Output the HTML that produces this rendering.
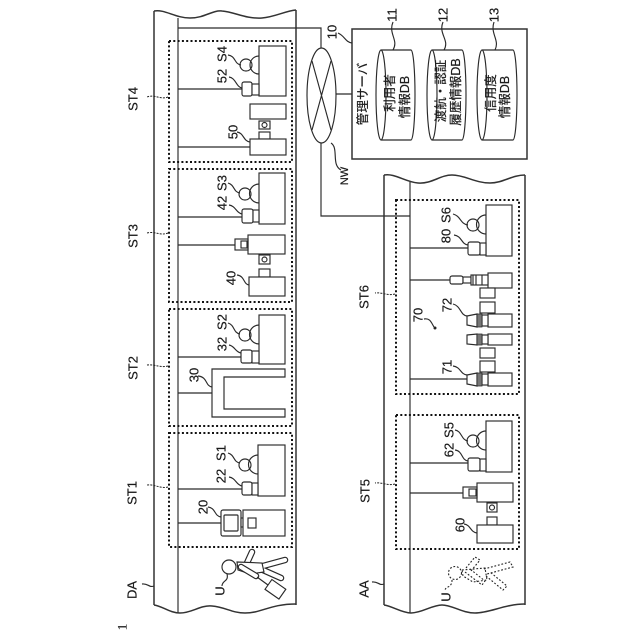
<!DOCTYPE html>
<html><head><meta charset="utf-8"><style>
html,body{margin:0;padding:0;background:#fff}
svg{display:block}
text{font-family:"Liberation Sans","Noto Sans CJK JP",sans-serif;fill:#1a1a1a;stroke:#1a1a1a;stroke-width:.2;text-anchor:middle;dominant-baseline:central}
.l{fill:none;stroke:#2a2a2a;stroke-width:1.15}
.b{fill:#fff;stroke:#2a2a2a;stroke-width:1.15}
.o{fill:none;stroke:#333;stroke-width:1.5}
.d{fill:none;stroke:#111;stroke-width:2;stroke-dasharray:2 2.300}
.q{fill:none;stroke:#222;stroke-width:1;stroke-dasharray:2 1.200}
.t{font-size:13px}
.j{font-size:12.500px}
</style></head><body>
<svg width="640" height="640" viewBox="0 0 640 640" xmlns="http://www.w3.org/2000/svg">
<rect width="640" height="640" fill="#fff"/>

<!-- left panel -->
<path class="o" d="M154,11 C165,9 175,18 190,18 C205,18 212,10 222,11 C235,12 245,19 262,18 C275,17 285,11 296,10"/>
<path class="o" d="M154,11V605M296,10V605"/>
<path class="l" d="M178,18V613"/>
<path class="o" d="M154,605 C162,606 170,613 180,613 C192,613 200,605 212,606 C225,607 232,613 245,613 C262,613 270,604 296,604"/>
<path class="l" d="M178,28H321V48"/>
<!-- network -->
<ellipse class="b" cx="321.500" cy="95.500" rx="14.500" ry="47.500"/>
<path class="l" d="M312,61L331,130M331,61L312,130M336,94H352M321,143V216H410"/>
<path class="l" d="M331,143C339,148 331,165 341,170"/>
<!-- server -->
<rect class="o" x="352" y="29" width="175" height="130"/>
<path class="b" d="M381,50H411A4,45 0 0 1 411,140H381A5,45 0 0 1 381,50ZM381,50A5,45 0 0 1 381,140"/>
<path class="b" d="M432,50H462A4,45 0 0 1 462,140H432A5,45 0 0 1 432,50ZM432,50A5,45 0 0 1 432,140"/>
<path class="b" d="M482,50H513A4,45 0 0 1 513,140H482A5,45 0 0 1 482,50ZM482,50A5,45 0 0 1 482,140"/>
<path class="l" d="M352,43C345,42 345,36 338,33M393,50C399,40 388,34 393,22M444,50C450,40 438,34 443,22M495,50C500,40 490,34 494,22"/>
<text class="t" transform="translate(392,15) rotate(-90)">11</text>
<text class="t" transform="translate(443,15) rotate(-90)">12</text>
<text class="t" transform="translate(494,15) rotate(-90)">13</text>
<text class="t" transform="translate(332,32) rotate(-90)">10</text>
<text class="t" style="font-size:11px" transform="translate(345,176) rotate(-90)">NW</text>
<text class="j" transform="translate(363,94) rotate(-90)">管理サーバ</text>
<text class="j" transform="translate(390,93) rotate(-90)">利用者</text>
<text class="j" transform="translate(405,97) rotate(-90)">情報DB</text>
<text class="j" transform="translate(441,91) rotate(-90)">渡航・認証</text>
<text class="j" transform="translate(456,92) rotate(-90)">履歴情報DB</text>
<text class="j" transform="translate(491,93) rotate(-90)">信用度</text>
<text class="j" transform="translate(505,97) rotate(-90)">情報DB</text>

<!-- dotted stations left -->
<rect class="d" x="169" y="41" width="123" height="121"/>
<rect class="d" x="169" y="169" width="123" height="133"/>
<rect class="d" x="169" y="309" width="123" height="117"/>
<rect class="d" x="169" y="433" width="123" height="114"/>

<!-- ST4 -->
<path class="l" d="M178,89H242M178,147H250"/>
<rect class="b" x="259" y="46" width="27" height="50"/>
<circle class="b" cx="246" cy="65" r="6"/>
<path class="l" d="M259,56A9,9 0 0 0 259,74"/>
<rect class="b" x="242" y="82" width="10" height="14" rx="2"/>
<rect class="b" x="252" y="84" width="7" height="11"/>
<rect class="b" x="250" y="104" width="36" height="15"/>
<rect class="b" x="259" y="121" width="11" height="8"/>
<circle class="l" cx="264.500" cy="125" r="2.500"/>
<rect class="b" x="259" y="132" width="11" height="7"/>
<rect class="b" x="250" y="139" width="36" height="16"/>
<path class="l" d="M241,65C234,64 236,56 228,55M242,88C236,87 236,78 229,77M250,142C243,141 244,133 237,132"/>
<text class="t" transform="translate(222,54) rotate(-90)">S4</text>
<text class="t" transform="translate(222,76) rotate(-90)">52</text>
<text class="t" transform="translate(233,132) rotate(-90)">50</text>
<path class="q" d="M168,97C160,100 155,94 147,97"/>
<text class="t" transform="translate(133,99) rotate(-90)">ST4</text>

<!-- ST3 -->
<path class="l" d="M178,217H242M178,245H235"/>
<rect class="b" x="259" y="173" width="26" height="51"/>
<circle class="b" cx="245" cy="194" r="6"/>
<path class="l" d="M259,184A9.500,9.500 0 0 0 259,203"/>
<rect class="b" x="242" y="209" width="11" height="14" rx="2"/>
<rect class="b" x="253" y="210" width="6" height="12"/>
<rect class="b" x="248" y="235" width="37" height="19"/>
<rect class="b" x="235" y="239" width="13" height="11"/>
<rect class="b" x="241" y="241" width="6" height="7"/>
<rect class="b" x="259" y="255" width="11" height="9"/>
<circle class="l" cx="264.500" cy="259.500" r="2.500"/>
<rect class="b" x="259" y="269" width="11" height="8"/>
<rect class="b" x="249" y="277" width="36" height="19"/>
<path class="l" d="M240,193C233,192 235,185 228,183M242,214C236,213 236,206 229,205M249,285C243,284 245,276 237,275"/>
<text class="t" transform="translate(222,183) rotate(-90)">S3</text>
<text class="t" transform="translate(222,203) rotate(-90)">42</text>
<text class="t" transform="translate(231,278) rotate(-90)">40</text>
<path class="q" d="M168,233C160,236 155,231 147,233"/>
<text class="t" transform="translate(133,236) rotate(-90)">ST3</text>

<!-- ST2 -->
<path class="l" d="M178,357H241M178,393H212"/>
<rect class="b" x="259" y="315" width="26" height="49"/>
<circle class="b" cx="245" cy="335" r="6"/>
<path class="l" d="M259,325A9.500,9.500 0 0 0 259,344"/>
<rect class="b" x="241" y="350" width="11" height="13" rx="2"/>
<rect class="b" x="252" y="351" width="7" height="12"/>
<path class="b" d="M285,369H212V417H285V409H224V377H285Z"/>
<path class="l" d="M240,334C233,333 235,325 228,323M241,353C235,352 235,346 229,345M212,387C205,386 208,377 198,376"/>
<text class="t" transform="translate(222,322) rotate(-90)">S2</text>
<text class="t" transform="translate(222,344) rotate(-90)">32</text>
<text class="t" transform="translate(194,375) rotate(-90)">30</text>
<path class="q" d="M168,366C160,368 155,364 147,365"/>
<text class="t" transform="translate(133,368) rotate(-90)">ST2</text>

<!-- ST1 -->
<path class="l" d="M178,489H242M178,523H221"/>
<rect class="b" x="258" y="445" width="27" height="51"/>
<circle class="b" cx="245" cy="465" r="6"/>
<path class="l" d="M258,455A9.500,9.500 0 0 0 258,474"/>
<rect class="b" x="242" y="482" width="10" height="13" rx="2"/>
<rect class="b" x="252" y="483" width="6" height="12"/>
<rect class="b" x="221" y="510" width="20" height="26" rx="2"/>
<rect class="b" x="224" y="515" width="14" height="16" rx="1"/>
<rect class="b" x="241" y="518" width="3" height="9"/>
<rect class="b" x="243" y="510" width="42" height="26"/>
<rect class="b" x="248" y="518" width="8" height="10"/>
<path class="l" d="M240,463C233,462 235,455 228,453M242,486C236,485 236,478 229,477M221,517C214,516 216,508 208,507"/>
<text class="t" transform="translate(221,453) rotate(-90)">S1</text>
<text class="t" transform="translate(221,476) rotate(-90)">22</text>
<text class="t" transform="translate(203,507) rotate(-90)">20</text>
<path class="q" d="M168,487C160,489 155,484 147,485"/>
<text class="t" transform="translate(132,493) rotate(-90)">ST1</text>

<!-- person U -->
<g stroke-linecap="round" fill="none">
<path d="M247,563L252,552M263,566L285,560M263,570L281,578" stroke="#2a2a2a" stroke-width="6.500"/>
<path d="M247,563L252,552M263,566L285,560M263,570L281,578" stroke="#fff" stroke-width="4.200"/>
</g>
<path class="b" d="M237,562L262,563L264,572L250,574L238,570Z"/>
<circle class="b" cx="229" cy="567" r="7"/>
<g stroke-linecap="round" fill="none">
<path d="M241,567L256,576" stroke="#2a2a2a" stroke-width="6.500"/>
<path d="M241,567L256,576" stroke="#fff" stroke-width="4.200"/>
</g>
<path class="l" d="M257,577L268,585"/>
<rect class="b" x="267" y="583" width="17" height="12" transform="rotate(35 275 589)"/>
<path class="l" d="M227,574C229,582 222,580 222,586"/>
<text class="t" transform="translate(220,591) rotate(-90)">U</text>
<path class="l" d="M154,586C149,588 148,583 142,584"/>
<text class="t" transform="translate(132,590) rotate(-90)">DA</text>
<text class="t" style="font-family:'Liberation Serif',serif" transform="translate(122,627) rotate(-90)">1</text>

<!-- right panel -->
<path class="o" d="M384,175 C395,173 405,182 418,183 C432,184 440,175 452,175 C465,175 475,183 490,183 C503,183 512,175 525,175"/>
<path class="o" d="M384,175V605M525,175V605"/>
<path class="l" d="M410,182V613"/>
<path class="o" d="M384,605 C392,606 402,613 411,613 C422,613 432,605 442,605 C452,605 462,613 475,613 C490,613 505,604 525,604"/>
<rect class="d" x="396" y="200" width="123" height="194"/>
<rect class="d" x="396" y="415" width="123" height="134"/>

<!-- ST6 -->
<path class="l" d="M410,248H468M410,280H450M410,379H467"/>
<rect class="b" x="486" y="205" width="26" height="51"/>
<circle class="b" cx="473" cy="225" r="6"/>
<path class="l" d="M486,215A9.500,9.500 0 0 0 486,234"/>
<rect class="b" x="468" y="242" width="12" height="13" rx="2"/>
<rect class="b" x="480" y="243" width="6" height="12"/>
<path class="l" d="M468,225C460,224 461,216 453,214M468,245C461,244 462,236 454,235"/>
<text class="t" transform="translate(446,215) rotate(-90)">S6</text>
<text class="t" transform="translate(446,236) rotate(-90)">80</text>

<rect class="b" x="488" y="273" width="24" height="15"/>
<rect class="b" x="450" y="276" width="13" height="8" rx="2"/>
<rect class="b" x="463" y="277" width="8" height="6"/>
<rect class="b" x="471" y="275" width="17" height="10"/>
<path class="l" d="M473,275V285M476,275V285M482,275V285"/>
<rect class="b" x="480" y="288" width="15" height="10"/>
<rect class="b" x="480" y="302" width="15" height="11"/>

<rect class="b" x="488" y="314" width="24" height="13"/>
<path class="b" d="M467,316L477,314V327L467,325Z"/>
<rect class="b" x="482" y="315" width="6" height="11"/>
<path d="M477,314H482V327H477Z" fill="#777" stroke="#2a2a2a" stroke-width=".8"/>

<rect class="b" x="488" y="334" width="24" height="11"/>
<path class="b" d="M467,335L477,334V345L467,344Z"/>
<rect class="b" x="482" y="335" width="6" height="9"/>
<path d="M477,334H482V345H477Z" fill="#777" stroke="#2a2a2a" stroke-width=".8"/>

<rect class="b" x="480" y="348" width="15" height="10"/>
<rect class="b" x="480" y="361" width="15" height="11"/>

<rect class="b" x="488" y="373" width="24" height="13"/>
<path class="b" d="M467,375L477,373V386L467,384Z"/>
<rect class="b" x="482" y="374" width="6" height="11"/>
<path d="M477,373H482V386H477Z" fill="#777" stroke="#2a2a2a" stroke-width=".8"/>

<path class="l" d="M467,316C460,315 461,306 453,304M467,375C460,374 461,367 453,366"/>
<text class="t" transform="translate(447,305) rotate(-90)">72</text>
<text class="t" transform="translate(447,367) rotate(-90)">71</text>
<text class="t" transform="translate(418,315) rotate(-90)">70</text>
<path class="l" d="M424,319C430,318 431,322 434,327"/>
<circle cx="435" cy="328" r="1.500" fill="#222"/>
<path class="q" d="M395,294C387,296 382,292 375,293"/>
<text class="t" transform="translate(364,297) rotate(-90)">ST6</text>

<!-- ST5 -->
<path class="l" d="M410,463H468M410,493H463"/>
<rect class="b" x="486" y="421" width="26" height="51"/>
<circle class="b" cx="473" cy="441" r="6"/>
<path class="l" d="M486,431A9.500,9.500 0 0 0 486,450"/>
<rect class="b" x="468" y="458" width="12" height="13" rx="2"/>
<rect class="b" x="480" y="459" width="6" height="12"/>
<rect class="b" x="477" y="483" width="36" height="19"/>
<rect class="b" x="463" y="487" width="14" height="11"/>
<rect class="b" x="469" y="489" width="7" height="7"/>
<rect class="b" x="487" y="503" width="10" height="9"/>
<circle class="l" cx="492" cy="507.500" r="2.500"/>
<rect class="b" x="487" y="517" width="10" height="8"/>
<rect class="b" x="477" y="525" width="36" height="18"/>
<path class="l" d="M468,441C461,440 462,431 455,430M468,461C461,460 463,451 455,450M477,533C470,532 471,525 464,524"/>
<text class="t" transform="translate(449,430) rotate(-90)">S5</text>
<text class="t" transform="translate(449,450) rotate(-90)">62</text>
<text class="t" transform="translate(460,525) rotate(-90)">60</text>
<path class="q" d="M395,484C387,486 382,482 375,483"/>
<text class="t" transform="translate(365,491) rotate(-90)">ST5</text>

<path class="l" d="M384,584C379,586 378,581 372,582"/>
<text class="t" transform="translate(364,589) rotate(-90)">AA</text>

<!-- dashed person -->
<g class="q" style="stroke-width:1.100;stroke-dasharray:1.800 1.800">
<circle cx="455" cy="573" r="6.500" fill="none"/>
<path fill="none" d="M462,570L485,568L487,580L473,582L463,576Z"/>
<path fill="none" d="M466,568L475,557L480,560L471,571"/>
<path fill="none" d="M484,569L510,562L513,567L487,574"/>
<path fill="none" d="M486,576L503,590L507,586L490,572"/>
<path fill="none" d="M465,572L482,585L485,581L470,569"/>
<path fill="none" d="M452,580C452,588 446,586 445,590"/>
</g>
<text class="t" transform="translate(446,597) rotate(-90)">U</text>
</svg>
</body></html>
